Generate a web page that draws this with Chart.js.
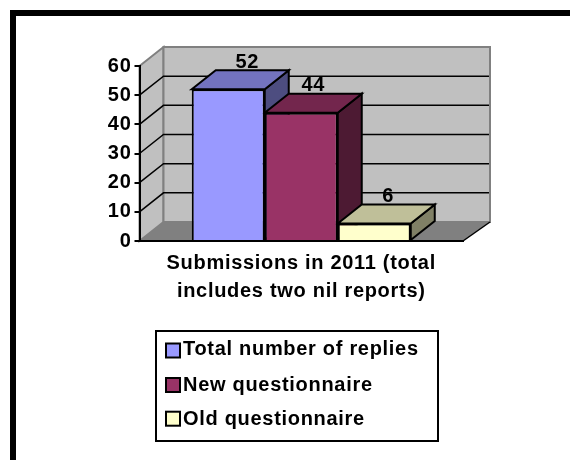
<!DOCTYPE html>
<html>
<head>
<meta charset="utf-8">
<title>Submissions in 2011</title>
<script src="https://cdn.jsdelivr.net/npm/chart.js@4"></script>
<style>
    html, body { margin: 0; padding: 0; background: #fff; }
    canvas { display: block; }
</style>
</head>
<body>
<canvas id="grafica" width="570" height="460"></canvas>
<script>
const categorias = [['Submissions in 2011 (total', 'includes two nil reports)']];
const series = ['Total number of replies', 'New questionnaire', 'Old questionnaire'];
const total = [52];
const nuevo = [44];
const viejo = [6];
const ticksY = [0, 10, 20, 30, 40, 50, 60];

const colores = ['#9999FF', '#993366', '#FFFFCC'];
const coloresTop = ['#7373BF', '#73264D', '#BFBF99'];
const coloresLado = ['#4D4D80', '#4D1A33', '#808066'];

const familia = '"Liberation Sans", Arial, sans-serif';
const fuente = 'bold 20px ' + familia;
const espaciado = '0.7px';
// desplazamiento de la perspectiva 3D
const fondoX = 24;
const fondoY = -19;
const muroDerecha = 490;
const nudgeEtiqueta = [19, 12, 14];
const filasLeyenda = [350.5, 385, 418.7];
const textoLeyenda = [349.5, 385.5, 419.5];

function poligono(ctx, puntos, relleno, borde, grosor) {
    ctx.beginPath();
    puntos.forEach((p, i) => i === 0 ? ctx.moveTo(p[0], p[1]) : ctx.lineTo(p[0], p[1]));
    ctx.closePath();
    if (relleno) {
        ctx.fillStyle = relleno;
        ctx.fill();
    }
    if (borde) {
        ctx.strokeStyle = borde;
        ctx.lineWidth = grosor;
        ctx.stroke();
    }
}

const plugin3d = {
    id: 'plugin3d',
    beforeDraw(chart) {
        const ctx = chart.ctx;
        const x = chart.scales.x;
        const y = chart.scales.y;
        const y0 = y.getPixelForValue(0);
        const yMax = y.getPixelForValue(60);

        // el texto original va un poco separado
        ctx.letterSpacing = espaciado;

        ctx.save();
        // marco de la pagina
        ctx.fillStyle = '#000';
        ctx.fillRect(10, 10, 560, 6);
        ctx.fillRect(10, 10, 6, 450);

        // muros y piso
        poligono(ctx, [[x.left, yMax], [x.left + fondoX, yMax + fondoY], [x.left + fondoX, y0 + fondoY], [x.left, y0]], '#C0C0C0', '#808080', 2);
        poligono(ctx, [[x.left + fondoX, yMax + fondoY], [muroDerecha, yMax + fondoY], [muroDerecha, y0 + fondoY], [x.left + fondoX, y0 + fondoY]], '#C0C0C0', '#808080', 2);
        poligono(ctx, [[x.left, y0], [x.left + fondoX, y0 + fondoY], [muroDerecha, y0 + fondoY], [x.right, y0]], '#808080', null, 0);

        ctx.strokeStyle = '#000';
        ctx.lineWidth = 1.5;
        ctx.beginPath();
        ctx.moveTo(x.right, y0);
        ctx.lineTo(muroDerecha, y0 + fondoY);
        ctx.stroke();

        // lineas de cuadricula en los muros
        ticksY.slice(1, -1).forEach(v => {
            const py = y.getPixelForValue(v);
            ctx.beginPath();
            ctx.moveTo(x.left, py);
            ctx.lineTo(x.left + fondoX, py + fondoY);
            ctx.lineTo(muroDerecha - 1, py + fondoY);
            ctx.stroke();
        });
        ctx.restore();
    },
    beforeDatasetsDraw(chart) {
        const ctx = chart.ctx;
        ctx.save();
        chart.data.datasets.forEach((ds, i) => {
            const bar = chart.getDatasetMeta(i).data[0];
            const izq = bar.x - bar.width / 2;
            const der = bar.x + bar.width / 2;
            poligono(ctx, [[der, bar.y], [der + fondoX, bar.y + fondoY], [der + fondoX, bar.base + fondoY], [der, bar.base]], coloresLado[i], '#000', 2);
            poligono(ctx, [[izq, bar.y], [izq + fondoX, bar.y + fondoY], [der + fondoX, bar.y + fondoY], [der, bar.y]], coloresTop[i], '#000', 2);
        });
        ctx.restore();
    },
    afterDraw(chart) {
        const ctx = chart.ctx;
        ctx.save();
        ctx.font = fuente;
        ctx.fillStyle = '#000';
        ctx.textBaseline = 'middle';

        // etiquetas de datos
        ctx.textAlign = 'center';
        chart.data.datasets.forEach((ds, i) => {
            const bar = chart.getDatasetMeta(i).data[0];
            ctx.fillText(String(ds.data[0]), bar.x + nudgeEtiqueta[i], bar.y - 27);
        });

        // leyenda
        ctx.strokeStyle = '#000';
        ctx.lineWidth = 2;
        ctx.strokeRect(156, 331, 282, 110);
        ctx.textAlign = 'left';
        series.forEach((nombre, i) => {
            const fila = filasLeyenda[i];
            ctx.fillStyle = colores[i];
            ctx.fillRect(166, fila - 7, 14, 14);
            ctx.strokeRect(166, fila - 7, 14, 14);
            ctx.fillStyle = '#000';
            ctx.fillText(nombre, 183, textoLeyenda[i]);
        });
        ctx.restore();
    }
};

new Chart(document.getElementById('grafica'), {
    type: 'bar',
    data: {
        labels: categorias,
        datasets: [
            { label: series[0], data: total, backgroundColor: colores[0] },
            { label: series[1], data: nuevo, backgroundColor: colores[1] },
            { label: series[2], data: viejo, backgroundColor: colores[2] }
        ]
    },
    options: {
        responsive: false,
        animation: false,
        layout: { padding: { left: 100, top: 66, right: 107, bottom: 139 } },
        datasets: {
            bar: { barPercentage: 1, categoryPercentage: 0.677, borderColor: '#000', borderWidth: 2 }
        },
        plugins: {
            legend: { display: false },
            tooltip: { enabled: false }
        },
        scales: {
            x: {
                afterFit: s => { s.height = 80; },
                grid: { display: false },
                border: { color: '#000', width: 2 },
                ticks: {
                    color: '#000',
                    maxRotation: 0,
                    padding: 0,
                    font: { family: familia, weight: 'bold', size: 20, lineHeight: 28 / 20 }
                }
            },
            y: {
                min: 0,
                max: 60,
                afterFit: s => { s.width = 39.5; },
                afterBuildTicks: s => { s.ticks = ticksY.map(v => ({ value: v })); },
                grid: { drawOnChartArea: false, color: '#000', tickLength: 5, lineWidth: 2 },
                border: { color: '#000', width: 2 },
                ticks: {
                    color: '#000',
                    padding: 3,
                    font: { family: familia, weight: 'bold', size: 20 }
                }
            }
        }
    },
    plugins: [plugin3d]
});
</script>
</body>
</html>
